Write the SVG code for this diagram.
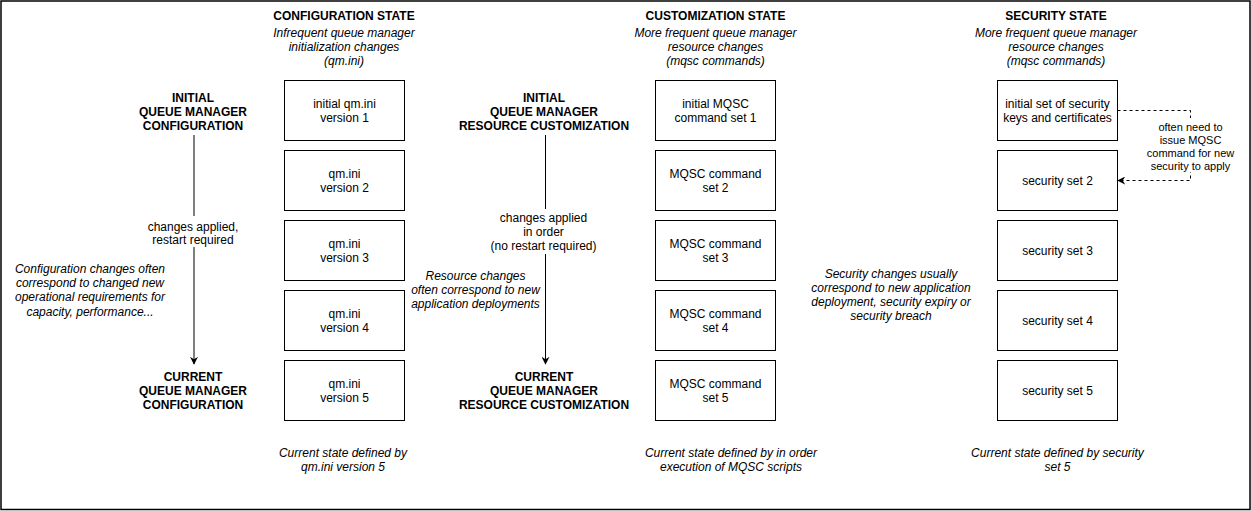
<svg xmlns="http://www.w3.org/2000/svg" width="1251" height="511" viewBox="0 0 1251 511">
<style>
text{font-family:"Liberation Sans",Arial,sans-serif;font-size:12px;fill:#000;text-anchor:middle}
.b{font-weight:bold}
.i{font-style:italic}
.s{font-size:11px}
.box{fill:#fff;stroke:#000;stroke-width:1}
.ln{fill:none;stroke:#000;stroke-width:1}
.d{stroke-dasharray:3 3}
</style>
<defs>
<marker id="ah" viewBox="0 0 10 10" refX="9" refY="5" markerWidth="8" markerHeight="8" markerUnits="userSpaceOnUse" orient="auto">
<path d="M0,0 L10,5 L0,10 L3,5 z" fill="#000"/>
</marker>
</defs>
<rect x="1" y="1" width="1249" height="508.5" fill="#fff" stroke="#000" stroke-width="1.5"/>

<g id="connectors">
<line class="ln" x1="194" y1="135" x2="194" y2="364" marker-end="url(#ah)"/>
<line class="ln" x1="545.5" y1="135" x2="545.5" y2="364" marker-end="url(#ah)"/>
<polyline class="ln d" points="1117.5,110.5 1190.5,110.5 1190.5,180.5 1118,180.5" marker-end="url(#ah)"/>
</g>

<g id="config-header">
<text class="b" x="344" y="19.5">CONFIGURATION STATE</text>
<text class="i" x="344" y="36.5">Infrequent queue manager</text>
<text class="i" x="344" y="50.5">initialization changes</text>
<text class="i" x="344" y="64.5">(qm.ini)</text>
</g>
<g id="custom-header">
<text class="b" x="715.5" y="19.5">CUSTOMIZATION STATE</text>
<text class="i" x="715.5" y="36.5">More frequent queue manager</text>
<text class="i" x="715.5" y="50.5">resource changes</text>
<text class="i" x="715.5" y="64.5">(mqsc commands)</text>
</g>
<g id="security-header">
<text class="b" x="1056" y="19.5">SECURITY STATE</text>
<text class="i" x="1056" y="36.5">More frequent queue manager</text>
<text class="i" x="1056" y="50.5">resource changes</text>
<text class="i" x="1056" y="64.5">(mqsc commands)</text>
</g>

<g id="initial-config">
<text class="b" x="193" y="101.5">INITIAL</text>
<text class="b" x="193" y="115.5">QUEUE MANAGER</text>
<text class="b" x="193" y="129.5">CONFIGURATION</text>
</g>
<g id="current-config">
<text class="b" x="193" y="381">CURRENT</text>
<text class="b" x="193" y="395">QUEUE MANAGER</text>
<text class="b" x="193" y="409">CONFIGURATION</text>
</g>
<g id="config-change-label">
<rect x="140" y="216" width="108" height="31" fill="#fff"/>
<text x="193" y="230.5">changes applied,</text>
<text x="193" y="244">restart required</text>
</g>
<g id="config-note">
<text class="i" x="90" y="273">Configuration changes often</text>
<text class="i" x="90" y="287">correspond to changed new</text>
<text class="i" x="90" y="301">operational requirements for</text>
<text class="i" x="90" y="315.5">capacity, performance...</text>
</g>

<g id="initial-custom">
<text class="b" x="544" y="101.5">INITIAL</text>
<text class="b" x="544" y="115.5">QUEUE MANAGER</text>
<text class="b" x="544" y="129.5">RESOURCE CUSTOMIZATION</text>
</g>
<g id="current-custom">
<text class="b" x="544" y="381">CURRENT</text>
<text class="b" x="544" y="395">QUEUE MANAGER</text>
<text class="b" x="544" y="409">RESOURCE CUSTOMIZATION</text>
</g>
<g id="custom-change-label">
<rect x="485" y="209" width="120" height="45" fill="#fff"/>
<text x="543.5" y="222">changes applied</text>
<text x="543.5" y="236">in order</text>
<text x="543.5" y="250">(no restart required)</text>
</g>
<g id="custom-note">
<text class="i" x="475.5" y="280">Resource changes</text>
<text class="i" x="475.5" y="294">often correspond to new</text>
<text class="i" x="475.5" y="308">application deployments</text>
</g>

<g id="security-note">
<text class="i" x="891" y="278">Security changes usually</text>
<text class="i" x="891" y="292">correspond to new application</text>
<text class="i" x="891" y="306">deployment, security expiry or</text>
<text class="i" x="891" y="320">security breach</text>
</g>
<g id="security-link-label">
<rect x="1140" y="118" width="100" height="54" fill="#fff"/>
<text class="s" x="1190.5" y="131">often need to</text>
<text class="s" x="1190.5" y="144">issue MQSC</text>
<text class="s" x="1190.5" y="157">command for new</text>
<text class="s" x="1190.5" y="170">security to apply</text>
</g>

<g id="qmini-1"><rect class="box" x="284.5" y="80.5" width="120" height="60"/><text x="344.5" y="107.5">initial qm.ini</text><text x="344.5" y="121.5">version 1</text></g>
<g id="qmini-2"><rect class="box" x="284.5" y="150.5" width="120" height="60"/><text x="344.5" y="177.5">qm.ini</text><text x="344.5" y="191.5">version 2</text></g>
<g id="qmini-3"><rect class="box" x="284.5" y="220.5" width="120" height="60"/><text x="344.5" y="247.5">qm.ini</text><text x="344.5" y="261.5">version 3</text></g>
<g id="qmini-4"><rect class="box" x="284.5" y="290.5" width="120" height="60"/><text x="344.5" y="317.5">qm.ini</text><text x="344.5" y="331.5">version 4</text></g>
<g id="qmini-5"><rect class="box" x="284.5" y="360.5" width="120" height="60"/><text x="344.5" y="387.5">qm.ini</text><text x="344.5" y="401.5">version 5</text></g>

<g id="mqsc-1"><rect class="box" x="655.5" y="80.5" width="120" height="60"/><text x="715.5" y="107.5">initial MQSC</text><text x="715.5" y="121.5">command set 1</text></g>
<g id="mqsc-2"><rect class="box" x="655.5" y="150.5" width="120" height="60"/><text x="715.5" y="177.5">MQSC command</text><text x="715.5" y="191.5">set 2</text></g>
<g id="mqsc-3"><rect class="box" x="655.5" y="220.5" width="120" height="60"/><text x="715.5" y="247.5">MQSC command</text><text x="715.5" y="261.5">set 3</text></g>
<g id="mqsc-4"><rect class="box" x="655.5" y="290.5" width="120" height="60"/><text x="715.5" y="317.5">MQSC command</text><text x="715.5" y="331.5">set 4</text></g>
<g id="mqsc-5"><rect class="box" x="655.5" y="360.5" width="120" height="60"/><text x="715.5" y="387.5">MQSC command</text><text x="715.5" y="401.5">set 5</text></g>

<g id="sec-1"><rect class="box" x="997.5" y="80.5" width="120" height="60"/><text x="1057.5" y="107.5">initial set of security</text><text x="1057.5" y="121.5">keys and certificates</text></g>
<g id="sec-2"><rect class="box" x="997.5" y="150.5" width="120" height="60"/><text x="1057.5" y="185">security set 2</text></g>
<g id="sec-3"><rect class="box" x="997.5" y="220.5" width="120" height="60"/><text x="1057.5" y="255">security set 3</text></g>
<g id="sec-4"><rect class="box" x="997.5" y="290.5" width="120" height="60"/><text x="1057.5" y="325">security set 4</text></g>
<g id="sec-5"><rect class="box" x="997.5" y="360.5" width="120" height="60"/><text x="1057.5" y="395">security set 5</text></g>

<g id="config-footer">
<text class="i" x="343" y="457">Current state defined by</text>
<text class="i" x="343" y="471">qm.ini version 5</text>
</g>
<g id="custom-footer">
<text class="i" x="731" y="457">Current state defined by in order</text>
<text class="i" x="731" y="471">execution of MQSC scripts</text>
</g>
<g id="security-footer">
<text class="i" x="1057.5" y="457">Current state defined by security</text>
<text class="i" x="1057.5" y="471">set 5</text>
</g>
</svg>
